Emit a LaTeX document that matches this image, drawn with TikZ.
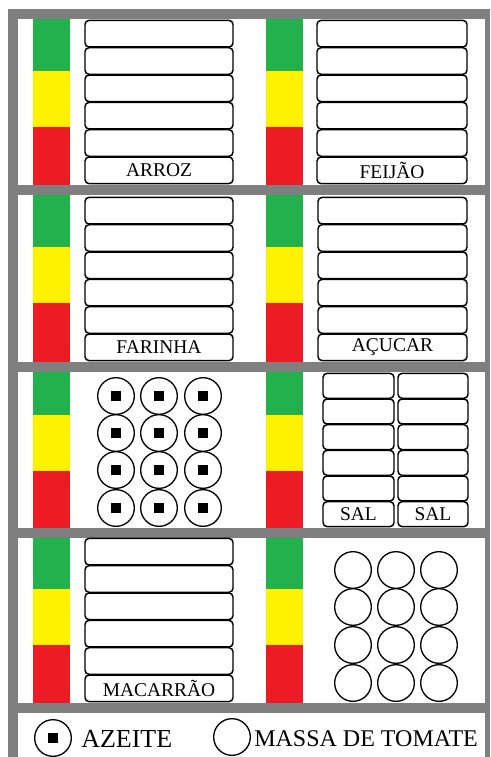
\documentclass[tikz,border=0pt]{standalone}
\usepackage{fontspec}
\setmainfont{Liberation Serif}
\definecolor{shelfgray}{HTML}{7F7F7F}
\definecolor{bargreen}{HTML}{22B14C}
\definecolor{baryellow}{HTML}{FFF200}
\definecolor{barred}{HTML}{ED1C24}
\tikzset{
  shelf/.style={fill=shelfgray},
  bag/.style={draw=black, fill=white, line width=1.1pt, rounded corners=3pt, inner sep=0pt,
    font=\fontsize{14.6}{15}\selectfont},
  jar/.style={circle, draw=black, line width=1pt, inner sep=0pt, minimum size=27.5pt},
  dot/.style={rectangle, fill=black, inner sep=0pt, minimum size=7.5pt},
  legendtext/.style={anchor=west, inner sep=0pt},
}
\newcommand\colorbar[5]{% x, ytop, y1, y2, ybot
  \fill[bargreen] (#1,#2) rectangle (#1+37,#3);
  \fill[baryellow] (#1,#3) rectangle (#1+37,#4);
  \fill[barred] (#1,#4) rectangle (#1+37,#5);
}
\newcommand\bagcolumn[6]{% name, x1, x2, ytop, ybot, label
  \pgfmathsetmacro\bagpitch{(#5-#4)/6}
  \foreach \i in {0,...,5} {
    \node[bag, minimum width={(#3-#2)*0.75pt}, minimum height={(\bagpitch-0.8)*0.75pt}]
      (#1-\i) at ({(#2+#3)/2},{#4+(\i+0.5)*\bagpitch}) {\ifnum\i=5 #6\fi};
  }
}
\begin{document}
\begin{tikzpicture}[x=0.75pt,y=-0.75pt]
\useasboundingbox (0,0) rectangle (490,757);
\fill[white] (0,0) rectangle (490,757);
% frame
\fill[shelf] (8,9) rectangle (490,19);
\fill[shelf] (8,9) rectangle (18,757);
\fill[shelf] (485,9) rectangle (490,757);
\foreach \y in {185,362,528,703} \fill[shelf] (8,\y) rectangle (490,\y+10);
% colour bars
\foreach \x in {33,266} {
  \colorbar{\x}{19}{71}{127}{185}
  \colorbar{\x}{195}{247}{303}{362}
  \colorbar{\x}{372}{415}{471}{528}
  \colorbar{\x}{538}{589}{645}{703}
}
% bags
\bagcolumn{arroz}{85}{233}{20}{184}{ARROZ}
\bagcolumn{feijao}{317}{467}{20}{184}{FEIJÃO}
\bagcolumn{farinha}{85}{233}{197}{361}{FARINHA}
\bagcolumn{acucar}{318}{467}{197}{361}{AÇUCAR}
\bagcolumn{sala}{323}{394}{373}{527}{SAL}
\bagcolumn{salb}{398}{468}{373}{527}{SAL}
\bagcolumn{macarrao}{85}{233}{538}{702}{MACARRÃO}
% azeite
\foreach \c/\x in {0/116,1/159,2/203} {
  \foreach \r/\y in {0/396,1/433,2/470,3/508} {
    \node[jar] (az-\c-\r) at (\x,\y) {};
    \node[dot] (azd-\c-\r) at (az-\c-\r.center) {};
  }
}
% massa de tomate
\foreach \c/\x in {0/353,1/396,2/439} {
  \foreach \r/\y in {0/570,1/607,2/645,3/683} {
    \node[jar] (tom-\c-\r) at (\x,\y) {};
  }
}
% legend
\node[jar] (legaz) at (53,738) {};
\node[dot] (legazd) at (legaz.center) {};
\node[legendtext, font=\fontsize{19.5}{20}\selectfont] (legaztext) at (81,739) {AZEITE};
\node[jar] (legtom) at (232,737) {};
\node[legendtext, font=\fontsize{18}{19}\selectfont] (legtomtext) at (254,739) {MASSA DE TOMATE};
\end{tikzpicture}
\end{document}
